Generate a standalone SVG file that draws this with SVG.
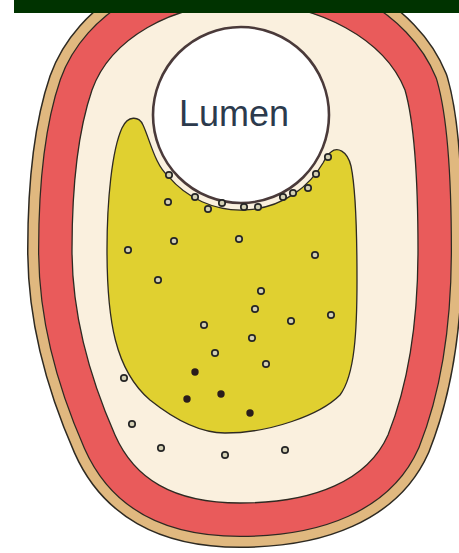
<svg xmlns="http://www.w3.org/2000/svg" width="459" height="553" viewBox="0 0 459 553">
  <defs>
    <!-- inner edge of the wall; the coloured bands are drawn as strokes along it -->
    <path id="wall" d="M 245 3 C 320 3 385 40 405 90 C 415 125 418 180 418 250 C 418 320 408 385 388 435 C 368 480 315 503 240 503 C 172 503 134 478 115 435 C 93 385 72 320 72 250 C 72 180 80 125 92 90 C 110 40 170 3 245 3 Z"/>
  </defs>
  <style>
    .line { fill: none; stroke: #2e2a22; stroke-linejoin: round; }
    .ring { fill: #d4d0b4; stroke: #262626; stroke-width: 1.7; }
    .dot { fill: #2a1c1c; }
    .label { font-family: "Liberation Sans", Arial, sans-serif; font-size: 36px; fill: #2c3a4c; }
  </style>

  <rect x="0" y="0" width="459" height="553" fill="#ffffff"/>

  <!-- outer wall: tan adventitia, red media, cream intima -->
  <g id="wall-layers">
    <use href="#wall" class="line" stroke-width="90"/>
    <use href="#wall" fill="none" stroke="#e0b87f" stroke-width="87" stroke-linejoin="round"/>
    <use href="#wall" class="line" stroke-width="68"/>
    <use href="#wall" fill="none" stroke="#e95b5b" stroke-width="65.5" stroke-linejoin="round"/>
    <use href="#wall" fill="#faf0de" stroke="#2e2a22" stroke-width="1.3"/>
  </g>

  <!-- yellow plaque core -->
  <g id="plaque">
    <path d="M 168.2 176.1 C 155 165 150 140 143 125 C 139 116 128 115 122 128 C 112 150 107 200 107 250 C 107 320 115 370 150 400 C 175 420 200 433 225 433 C 270 433 320 415 340 395 C 355 375 357 330 357 280 C 357 230 356 190 351 166 C 347 150 337 147 331 152 C 327 155 325 159 323.3 162.5 A 95 95 0 0 1 168.2 176.1 Z" fill="#e0d030" stroke="#2e2a22" stroke-width="1.3"/>
  </g>

  <!-- lumen -->
  <g id="lumen">
    <circle cx="241" cy="115" r="88" fill="#ffffff" stroke="#4a3a3a" stroke-width="2.6"/>
    <text class="label" x="234" y="126" text-anchor="middle">Lumen</text>
  </g>

  <!-- cells along the lumen border -->
  <g id="border-cells">
    <circle class="ring" cx="169" cy="175" r="3.2"/>
    <circle class="ring" cx="195" cy="197" r="3.2"/>
    <circle class="ring" cx="208" cy="209" r="3.2"/>
    <circle class="ring" cx="222" cy="203" r="3.2"/>
    <circle class="ring" cx="244" cy="207" r="3.2"/>
    <circle class="ring" cx="258" cy="207" r="3.2"/>
    <circle class="ring" cx="283" cy="197" r="3.2"/>
    <circle class="ring" cx="293" cy="193" r="3.2"/>
    <circle class="ring" cx="308" cy="188" r="3.2"/>
    <circle class="ring" cx="316" cy="174" r="3.2"/>
    <circle class="ring" cx="328" cy="157" r="3.2"/>
  </g>

  <!-- cells inside the core -->
  <g id="core-cells">
    <circle class="ring" cx="168" cy="202" r="3.2"/>
    <circle class="ring" cx="128" cy="250" r="3.2"/>
    <circle class="ring" cx="174" cy="241" r="3.2"/>
    <circle class="ring" cx="239" cy="239" r="3.2"/>
    <circle class="ring" cx="315" cy="255" r="3.2"/>
    <circle class="ring" cx="158" cy="280" r="3.2"/>
    <circle class="ring" cx="261" cy="291" r="3.2"/>
    <circle class="ring" cx="255" cy="309" r="3.2"/>
    <circle class="ring" cx="291" cy="321" r="3.2"/>
    <circle class="ring" cx="331" cy="315" r="3.2"/>
    <circle class="ring" cx="204" cy="325" r="3.2"/>
    <circle class="ring" cx="252" cy="338" r="3.2"/>
    <circle class="ring" cx="215" cy="353" r="3.2"/>
    <circle class="ring" cx="266" cy="364" r="3.2"/>
    <circle class="dot" cx="195" cy="372" r="3.7"/>
    <circle class="dot" cx="187" cy="399" r="3.7"/>
    <circle class="dot" cx="221" cy="394" r="3.7"/>
    <circle class="dot" cx="250" cy="413" r="3.7"/>
  </g>

  <!-- cells in the intima -->
  <g id="intima-cells">
    <circle class="ring" cx="124" cy="378" r="3.2"/>
    <circle class="ring" cx="132" cy="424" r="3.2"/>
    <circle class="ring" cx="161" cy="448" r="3.2"/>
    <circle class="ring" cx="225" cy="455" r="3.2"/>
    <circle class="ring" cx="285" cy="450" r="3.2"/>
  </g>

  <!-- title bar -->
  <rect id="title-bar" x="14" y="0" width="445" height="13" fill="#003300"/>
</svg>
